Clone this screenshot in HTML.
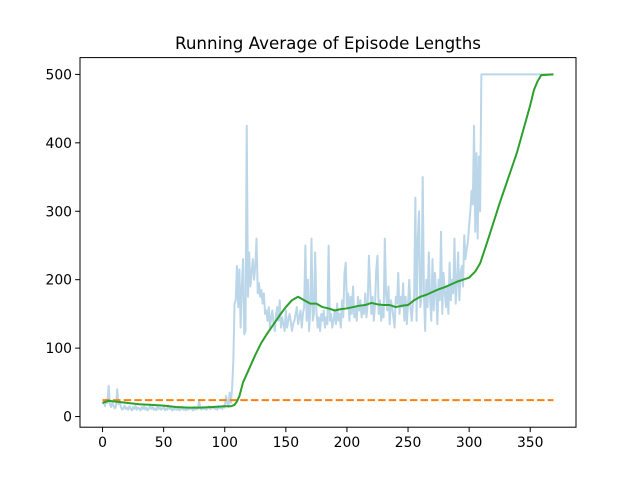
<!DOCTYPE html>
<html><head><meta charset="utf-8"><style>
body{margin:0;background:#fff}
svg text{font-family:"DejaVu Sans","Liberation Sans",sans-serif;fill:#000}
</style></head><body>
<svg id="chart" width="640" height="480" xmlns="http://www.w3.org/2000/svg">
<rect width="640" height="480" fill="#fff"/>
<text x="328" y="49" font-size="16.7" text-anchor="middle">Running Average of Episode Lengths</text>
<g id="plot"></g>
<g id="axes"></g>
</svg>
<script>
const xTicks=[0,50,100,150,200,250,300,350];
const yTicks=[0,100,200,300,400,500];
const episodeLengths=[
18,22,15,25,20,45,18,14,20,16,
12,15,40,18,22,14,10,12,16,11,
13,10,15,12,9,14,11,16,10,13,
12,9,14,11,15,10,13,9,12,16,
11,14,10,12,9,15,11,13,10,12,
14,9,12,10,16,11,13,9,12,10,
13,10,12,9,11,14,10,12,9,11,
10,13,11,12,9,14,10,13,11,24,
12,10,14,11,13,10,12,15,11,13,
12,14,11,13,10,15,12,14,11,16,
13,30,22,14,35,20,40,80,165,170,
220,160,215,130,190,230,120,125,425,175,
240,190,210,230,200,220,260,180,195,175,
185,165,180,150,155,140,160,130,145,155,
135,125,150,160,140,170,130,145,135,125,
155,130,140,150,140,125,135,140,150,160,
135,145,155,130,150,160,250,140,200,125,
160,260,140,150,240,155,130,145,125,150,
140,155,130,145,135,250,140,150,130,140,
155,135,165,140,150,130,170,145,210,225,
160,180,140,175,150,190,145,160,140,175,
155,170,145,160,150,180,145,165,235,190,
150,175,140,165,215,235,150,170,140,160,
145,260,180,155,190,135,170,160,145,130,
175,165,210,150,175,160,195,140,175,135,
165,200,160,140,165,175,320,140,260,300,
160,175,350,180,125,200,160,240,175,140,
230,155,210,180,135,200,170,270,150,210,
185,160,190,150,225,170,200,180,260,165,
195,240,170,210,220,190,265,230,245,255,
280,300,330,310,425,270,385,260,380,300,
500,500,500,500,500,500,500,500,500,500,
500,500,500,500,500,500,500,500,500,500,
500,500,500,500,500,500,500,500,500,500,
500,500,500,500,500,500,500,500,500,500,
500,500,500,500,500,500,500,500,500,500,
500,500,500,500,500,500,500,500,500,500];
const avgEpisodes=[0,5,10,20,30,40,50,60,70,80,90,100,105,108,110,112,115,120,125,130,135,140,145,150,155,160,165,170,175,180,185,190,195,200,205,210,215,220,225,230,235,240,245,250,255,260,265,270,275,280,285,290,295,300,305,309,315,325,339,350,353,356,359,369];
const avgValues=[20,23,22,20,18,17,16,14,13,13,14,15,15,17,22,30,50,70,90,108,122,135,148,160,170,175,170,165,165,160,158,155,157,158,160,162,163,166,164,163,163,160,162,163,170,175,178,182,186,189,193,197,200,203,212,224,256,312,385,455,477,490,499,500];
const thresholdValue=[24];
const thresholdRange=[0,369];

const L=80,R=576,T=57.6,B=427.2;
const xmin=-18.45,xmax=387.45,ymin=-15.55,ymax=524.55;
const sx=v=>L+(v-xmin)/(xmax-xmin)*(R-L);
const sy=v=>B-(v-ymin)/(ymax-ymin)*(B-T);
const NS="http://www.w3.org/2000/svg";
const plot=document.getElementById('plot'),axes=document.getElementById('axes');
function mk(tag,attrs,parent){const e=document.createElementNS(NS,tag);for(const k in attrs)e.setAttribute(k,attrs[k]);parent.appendChild(e);return e;}

let d=episodeLengths.map((v,i)=>(i?'L':'M')+sx(i).toFixed(2)+' '+sy(v).toFixed(2)).join('');
const raw=mk('path',{d:d,fill:'none',stroke:'#1f77b4','stroke-opacity':0.3,'stroke-width':2,'stroke-linejoin':'round'},plot);



const th=mk('line',{x1:sx(thresholdRange[0]),x2:sx(thresholdRange[1]),y1:sy(thresholdValue[0]),y2:sy(thresholdValue[0]),stroke:'#ff7f0e','stroke-width':2,'stroke-dasharray':'7.4 3.2'},plot);



d=avgValues.map((v,i)=>(i?'L':'M')+sx(avgEpisodes[i]).toFixed(2)+' '+sy(v).toFixed(2)).join('');
const avg=mk('path',{d:d,fill:'none',stroke:'#2ca02c','stroke-width':2,'stroke-linejoin':'round'},plot);



const frame=mk('rect',{x:L,y:T,width:R-L,height:B-T,fill:'none',stroke:'#000','stroke-width':1},axes);



xTicks.forEach(t=>{
  const x=sx(t);
  mk('line',{x1:x,x2:x,y1:B,y2:B+4.9,stroke:'#000','stroke-width':1},axes);
  const tx=mk('text',{x:x,y:B+20,'font-size':13.9,'text-anchor':'middle'},axes);
  tx.textContent=t;
  
  
});
yTicks.forEach(t=>{
  const y=sy(t);
  mk('line',{x1:L,x2:L-4.9,y1:y,y2:y,stroke:'#000','stroke-width':1},axes);
  const tx=mk('text',{x:L-8,y:y+5,'font-size':13.9,'text-anchor':'end'},axes);
  tx.textContent=t;
  
  
});
</script>
</body></html>
